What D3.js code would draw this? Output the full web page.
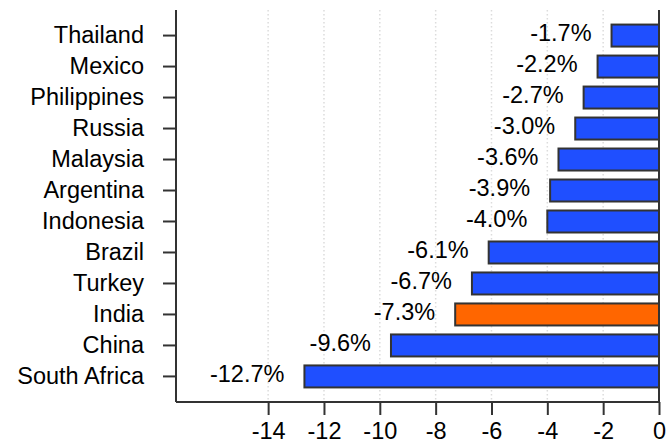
<!DOCTYPE html>
<html>
<head>
<meta charset="utf-8">
<script src="https://cdn.jsdelivr.net/npm/d3@7"></script>
<style>
  html, body { margin: 0; padding: 0; background: #fff; }
  svg { display: block; }
  text { font-family: "Liberation Sans", Arial, Helvetica, sans-serif; fill: #000; }
</style>
</head>
<body>
<svg id="chart" width="671" height="444"></svg>
<script>
// Current account balance, % of GDP
const countries = ["Thailand", "Mexico", "Philippines", "Russia", "Malaysia", "Argentina",
                   "Indonesia", "Brazil", "Turkey", "India", "China", "South Africa"];
const values = [-1.7, -2.2, -2.7, -3.0, -3.6, -3.9, -4.0, -6.1, -6.7, -7.3, -9.6, -12.7];
const highlighted = ["India"];
const xTicks = [-14, -12, -10, -8, -6, -4, -2, 0];

const data = countries.map((c, i) => ({ country: c, value: values[i] }));

const svg = d3.select("#chart");
const margin = { top: 10, right: 12, bottom: 42, left: 176 };
const width = 671, height = 444;
const fontSize = 23.5;

// plain hyphen-minus for negative numbers
const fmtValue = v => v.toFixed(1) + "%";
const fmtTick = v => String(v);

const x = d3.scaleLinear()
  .domain([-17.3, 0])
  .range([margin.left, width - margin.right]);

const y = d3.scaleBand()
  .domain(countries)
  .range([margin.top, height - margin.bottom])
  .paddingInner(0.29)
  .paddingOuter(0.47);

// dotted vertical gridlines
svg.append("g")
  .selectAll("line")
  .data(xTicks.filter(t => t !== 0))
  .join("line")
  .attr("x1", d => x(d)).attr("x2", d => x(d))
  .attr("y1", margin.top).attr("y2", height - margin.bottom)
  .attr("stroke", "#dcdcdc")
  .attr("stroke-width", 1.5)
  .attr("stroke-dasharray", "1.5,2.5");

// bars
svg.append("g")
  .selectAll("rect")
  .data(data)
  .join("rect")
  .attr("x", d => x(d.value))
  .attr("y", d => y(d.country))
  .attr("width", d => x(0) - x(d.value))
  .attr("height", y.bandwidth())
  .attr("fill", d => highlighted.includes(d.country) ? "#ff6600" : "#1f4fff")
  .attr("stroke", "#333")
  .attr("stroke-width", 2);

// value labels
svg.append("g")
  .selectAll("text")
  .data(data)
  .join("text")
  .attr("x", d => x(d.value) - 20)
  .attr("y", d => y(d.country) + y.bandwidth() / 2 - 3)
  .attr("dy", "0.35em")
  .attr("text-anchor", "end")
  .style("font-size", fontSize + "px")
  .text(d => fmtValue(d.value));

// zero line
svg.append("line")
  .attr("x1", x(0)).attr("x2", x(0))
  .attr("y1", margin.top).attr("y2", height - margin.bottom)
  .attr("stroke", "#333")
  .attr("stroke-width", 2);

// x axis
const xAxis = svg.append("g")
  .attr("transform", `translate(0,${height - margin.bottom})`)
  .call(d3.axisBottom(x).tickValues(xTicks).tickFormat(fmtTick).tickSize(13).tickSizeOuter(0).tickPadding(7));

// y axis
const yAxis = svg.append("g")
  .attr("transform", `translate(${margin.left},0)`)
  .call(d3.axisLeft(y).tickSize(13).tickSizeOuter(0).tickPadding(19));

[xAxis, yAxis].forEach(a => {
  a.select(".domain").attr("stroke", "#333").attr("stroke-width", 2);
  a.selectAll(".tick line").attr("stroke", "#333").attr("stroke-width", 2);
  a.selectAll(".tick text")
    .style("font-size", fontSize + "px")
    .style("font-family", '"Liberation Sans", Arial, sans-serif')
    .attr("fill", "#000");
});
// axis lines span only the plotted range
xAxis.select(".domain").attr("d", `M${margin.left},0H${x(0)}`);
yAxis.select(".domain").attr("d", `M0,${margin.top}V${height - margin.bottom}`);
</script>
</body>
</html>
